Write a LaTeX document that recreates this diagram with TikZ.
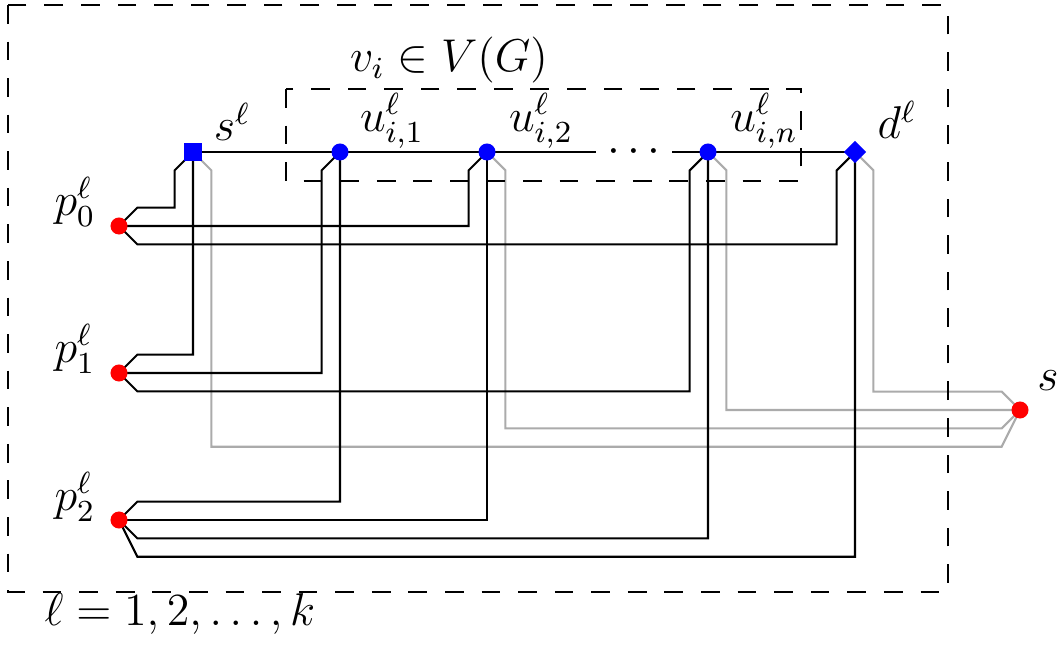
\documentclass[tikz,border=0pt]{standalone}
\usetikzlibrary{shapes.geometric,calc}
\pgfdeclarelayer{bg}
\pgfsetlayers{bg,main}
\begin{document}
\begin{tikzpicture}[x=0.01cm,y=-0.01cm,
  every node/.style={font=\fontsize{12}{14}\selectfont},
  wire/.style={line width=0.6pt,black},
  gwire/.style={line width=0.6pt,black!33},
  frame/.style={line width=0.6pt,dash pattern=on 5.3pt off 5.1pt},
  bdot/.style={circle,fill=blue,inner sep=0pt,minimum size=0.17cm},
  rdot/.style={circle,fill=red,inner sep=0pt,minimum size=0.17cm},
  bsq/.style={rectangle,fill=blue,inner sep=0pt,minimum size=0.18cm},
  bdia/.style={diamond,fill=blue,inner sep=0pt,minimum size=0.23cm},
  lab/.style={inner sep=0pt,scale=1.09}]
\useasboundingbox (0,0) rectangle (1064,646);
% frames
\draw[frame] (8,5) rectangle (948,592);
\draw[frame] (286,89) rectangle (801,181);
% nodes
\node[bsq] (sl) at (193,152) {};
\node[bdot] (u1) at (340,152) {};
\node[bdot] (u2) at (487,152) {};
\node[scale=1.09,inner xsep=2.8pt] (dots) at (634,152) {$\cdots$};
\node[bdot] (un) at (708,152) {};
\node[bdia] (d) at (855,152) {};
\node[rdot] (p0) at (119,226) {};
\node[rdot] (p1) at (119,373) {};
\node[rdot] (p2) at (119,520) {};
\node[rdot] (s) at (1020,410) {};
% labels
\node[lab] (lv) at (449,60) {$v_i\in V(G)$};
\node[lab] (lsl) at (232,122) {$s^\ell$};
\node[lab] (lu1) at (392,121) {$u^\ell_{i,1}$};
\node[lab] (lu2) at (541,121) {$u^\ell_{i,2}$};
\node[lab] (lun) at (764,121) {$u^\ell_{i,n}$};
\node[lab] (ld) at (897,120) {$d^\ell$};
\node[lab] (lp0) at (75,202) {$p^\ell_0$};
\node[lab] (lp1) at (75,349) {$p^\ell_1$};
\node[lab] (lp2) at (75,497) {$p^\ell_2$};
\node[lab] (ls) at (1048,381) {$s$};
\node[lab] (lk) at (180,614) {$\ell=1,2,\ldots,k$};
\begin{pgfonlayer}{bg}
% top chain
\draw[wire] (sl.center) -- (u1.center) -- (u2.center) -- (dots.west);
\draw[wire] (dots.east) -- (un.center) -- (d.center);
% s^l
\draw[wire] (p0.center) -- ++(18.4,-18.4) -| ($(sl.center)+(-18.4,18.4)$) -- (sl.center);
\draw[wire] (p1.center) -- ++(18.4,-18.4) -| (sl.center);
\draw[gwire] (s.center) -- ++(-18.4,36.8) -| ($(sl.center)+(18.4,18.4)$) -- (sl.center);
% u1
\draw[wire] (p1.center) -| ($(u1.center)+(-18.4,18.4)$) -- (u1.center);
\draw[wire] (p2.center) -- ++(18.4,-18.4) -| (u1.center);
% u2
\draw[wire] (p0.center) -| ($(u2.center)+(-18.4,18.4)$) -- (u2.center);
\draw[wire] (p2.center) -| (u2.center);
\draw[gwire] (s.center) -- ++(-18.4,18.4) -| ($(u2.center)+(18.4,18.4)$) -- (u2.center);
% un
\draw[wire] (p1.center) -- ++(18.4,18.4) -| ($(un.center)+(-18.4,18.4)$) -- (un.center);
\draw[wire] (p2.center) -- ++(18.4,18.4) -| (un.center);
\draw[gwire] (s.center) -| ($(un.center)+(18.4,18.4)$) -- (un.center);
% d
\draw[wire] (p0.center) -- ++(18.4,18.4) -| ($(d.center)+(-18.4,18.4)$) -- (d.center);
\draw[wire] (p2.center) -- ++(18.4,36.8) -| (d.center);
\draw[gwire] (s.center) -- ++(-18.4,-18.4) -| ($(d.center)+(18.4,18.4)$) -- (d.center);
\end{pgfonlayer}
\end{tikzpicture}
\end{document}
